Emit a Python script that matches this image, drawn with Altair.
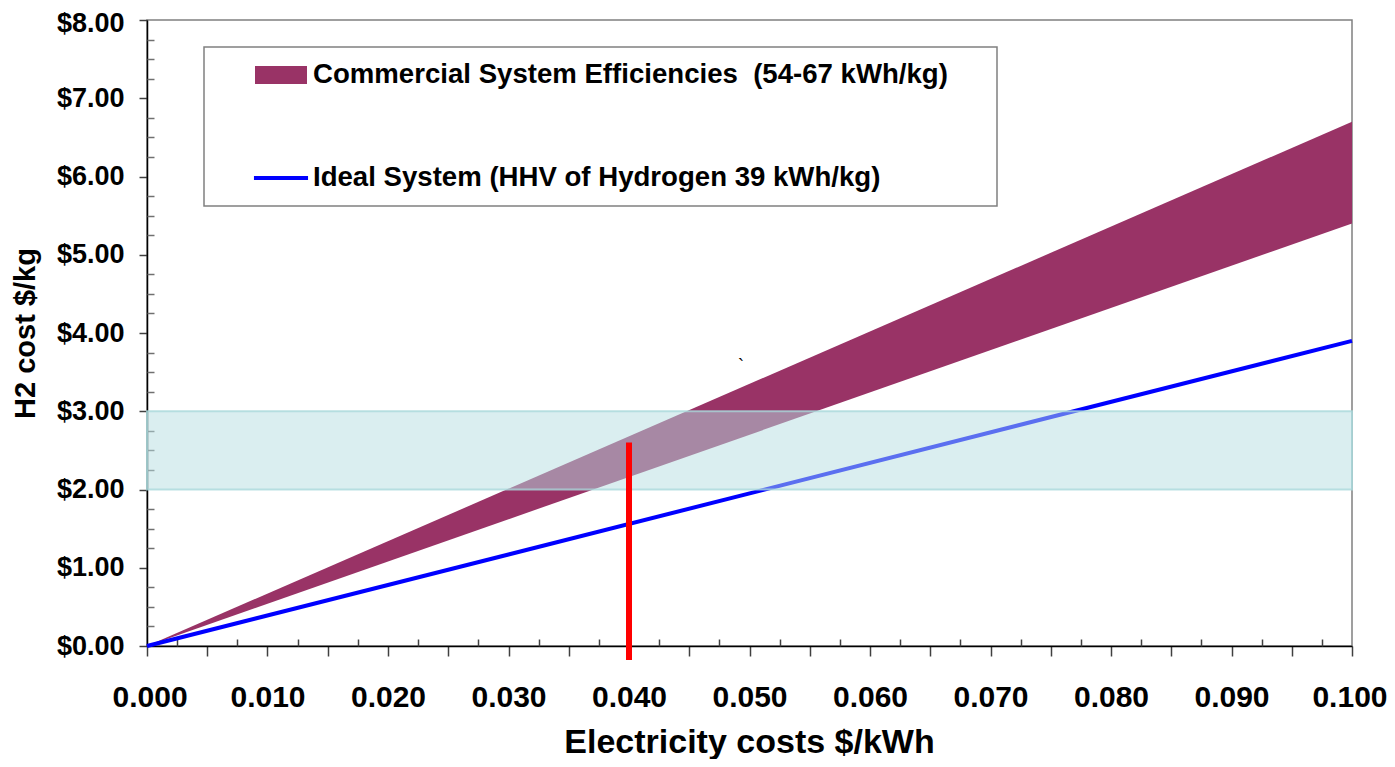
import altair as alt
import pandas as pd

FONT = "Liberation Sans"

# ---- data ----
elec_cost = [0.0, 0.1]                 # $/kWh
commercial_low = [0.0, 5.4]            # 54 kWh/kg
commercial_high = [0.0, 6.7]           # 67 kWh/kg
ideal_cost = [0.0, 3.9]                # 39 kWh/kg
target_x = [0.0, 0.1]
target_y = [2.0, 3.0]
marker_x = [0.04]
marker_y = [-0.18, 2.6]
stray_x = [0.0493]
stray_y = [3.57]
stray_text = ["`"]

series = ["Commercial System Efficiencies\u00a0 (54-67 kWh/kg)",
          "Ideal System (HHV of Hydrogen 39 kWh/kg)"]
series_colors = ["#993366", "#0000ff"]
series_shapes = ["M-1,-0.35H1V0.35H-1Z", "M-1.04,-0.08H1.04V0.08H-1.04Z"]

x_major = [0.000, 0.005, 0.010, 0.015, 0.020, 0.025, 0.030, 0.035, 0.040, 0.045,
           0.050, 0.055, 0.060, 0.065, 0.070, 0.075, 0.080, 0.085, 0.090, 0.095, 0.100]
x_minor = [0.0025, 0.0075, 0.0125, 0.0175, 0.0225, 0.0275, 0.0325, 0.0375, 0.0425, 0.0475,
           0.0525, 0.0575, 0.0625, 0.0675, 0.0725, 0.0775, 0.0825, 0.0875, 0.0925, 0.0975]
y_major = [0, 1, 2, 3, 4, 5, 6, 7, 8]
y_minor = [0.25, 0.5, 0.75, 1.25, 1.5, 1.75, 2.25, 2.5, 2.75, 3.25, 3.5, 3.75,
           4.25, 4.5, 4.75, 5.25, 5.5, 5.75, 6.25, 6.5, 6.75, 7.25, 7.5, 7.75]

# ---- tables ----
band_df = pd.DataFrame({"x": elec_cost, "low": commercial_low, "high": commercial_high})
ideal_df = pd.DataFrame({"x": elec_cost, "y": ideal_cost})
target_df = pd.DataFrame({"x0": [target_x[0]], "x1": [target_x[1]],
                          "y0": [target_y[0]], "y1": [target_y[1]]})
marker_df = pd.DataFrame({"x": marker_x, "lo": [marker_y[0]], "hi": [marker_y[1]]})
stray_df = pd.DataFrame({"x": stray_x, "y": stray_y, "t": stray_text})
legend_df = pd.DataFrame({"series": series, "x": [elec_cost[0]] * 2, "y": [ideal_cost[0]] * 2})

xs = alt.Scale(domain=[0, 0.1], nice=False, zero=False)
ys = alt.Scale(domain=[0, 8], nice=False, zero=False)

x_axis_major = alt.Axis(
    values=x_major, grid=False, tickSize=10, tickColor="#404040", tickWidth=1.5,
    domainColor="#000000", domainWidth=1.5,
    labelExpr="round(datum.value*200) % 2 == 0 ? format(datum.value, '.3f') : ''",
    labelFont=FONT, labelFontSize=30, labelFontWeight="bold", labelColor="#000000",
    labelPadding=26, labelFlush=True, labelFlushOffset=35, labelOverlap=False,
    title="Electricity costs $/kWh", titleFont=FONT, titleFontSize=34,
    titleFontWeight="bold", titleColor="#000000", titleX=602, titleY=106,
    titleAlign="center", titleBaseline="alphabetic")
x_axis_minor = alt.Axis(
    values=x_minor, orient="bottom", offset=-7, grid=False, domain=False,
    labels=False, tickSize=7, tickColor="#404040", tickWidth=1.5, title=None)
y_axis_major = alt.Axis(
    values=y_major, format="$.2f", grid=False, tickSize=8, tickColor="#404040",
    tickWidth=1.5, domainColor="#000000", domainWidth=1.5,
    labelFont=FONT, labelFontSize=27, labelFontWeight="bold", labelColor="#000000",
    labelPadding=15, labelFlush=False, labelOverlap=False,
    labelOffset={"condition": {"test": "datum.value == 8", "value": 3}, "value": 0},
    title="H2 cost $/kg", titleFont=FONT, titleFontSize=29, titleFontWeight="bold",
    titleColor="#000000", titleAngle=270, titleX=-122, titleY=313,
    titleAlign="center", titleBaseline="middle")
y_axis_minor = alt.Axis(
    values=y_minor, orient="left", offset=-7, grid=False, domain=False,
    labels=False, tickSize=7, tickColor="#707070", tickWidth=1.5, title=None)

leg = alt.Legend(
    title=None, orient="none", legendX=108, legendY=29, padding=0,
    symbolSize=2704, symbolStrokeWidth=0, symbolOpacity=1,
    labelFont=FONT, labelFontSize=27.6, labelFontWeight="bold", labelColor="#000000",
    labelOffset=6, labelLimit=2000, rowPadding=63)

box = alt.Chart(pd.DataFrame({"a": [0]})).mark_rect(
    fill="white", stroke="#808080", strokeWidth=1.5).encode(
    x=alt.value(57), x2=alt.value(850), y=alt.value(27), y2=alt.value(186))

band = alt.Chart(band_df).mark_area(color=series_colors[0], opacity=1).encode(
    x=alt.X("x:Q", scale=xs, axis=x_axis_major),
    y=alt.Y("high:Q", scale=ys, axis=y_axis_major),
    y2="low:Q")

ideal = alt.Chart(ideal_df).mark_line(color=series_colors[1], strokeWidth=4).encode(
    x=alt.X("x:Q", axis=x_axis_minor),
    y=alt.Y("y:Q", axis=y_axis_minor))

target = alt.Chart(target_df).mark_rect(
    fill="#b5dde1", fillOpacity=0.5, stroke="#a9d8db", strokeWidth=2,
    strokeOpacity=0.8).encode(
    x=alt.X("x0:Q", axis=None), x2="x1:Q",
    y=alt.Y("y0:Q", axis=None), y2="y1:Q")

marker = alt.Chart(marker_df).mark_rule(color="#ff0000", strokeWidth=6).encode(
    x=alt.X("x:Q", axis=None),
    y=alt.Y("lo:Q", axis=None), y2="hi:Q")

stray = alt.Chart(stray_df).mark_text(font=FONT, fontSize=18, color="#000000").encode(
    x=alt.X("x:Q", axis=None), y=alt.Y("y:Q", axis=None), text="t:N")

legend_pts = alt.Chart(legend_df).mark_point(filled=True, opacity=0).encode(
    x=alt.X("x:Q", axis=None), y=alt.Y("y:Q", axis=None),
    color=alt.Color("series:N", scale=alt.Scale(domain=series, range=series_colors),
                    legend=leg, sort=series),
    shape=alt.Shape("series:N", scale=alt.Scale(domain=series, range=series_shapes),
                    legend=leg, sort=series))

chart = alt.layer(box, band, ideal, target, marker, stray, legend_pts).resolve_axis(
    x="independent", y="independent").properties(
    width=1205, height=626,
    autosize=alt.AutoSizeParams(type="none"),
    padding={"left": 139, "top": 12, "right": 35, "bottom": 113},
    background="white").configure_view(stroke="#808080", strokeWidth=1.5)

chart.save("out.html", embed_options={"renderer": "svg", "actions": False})
